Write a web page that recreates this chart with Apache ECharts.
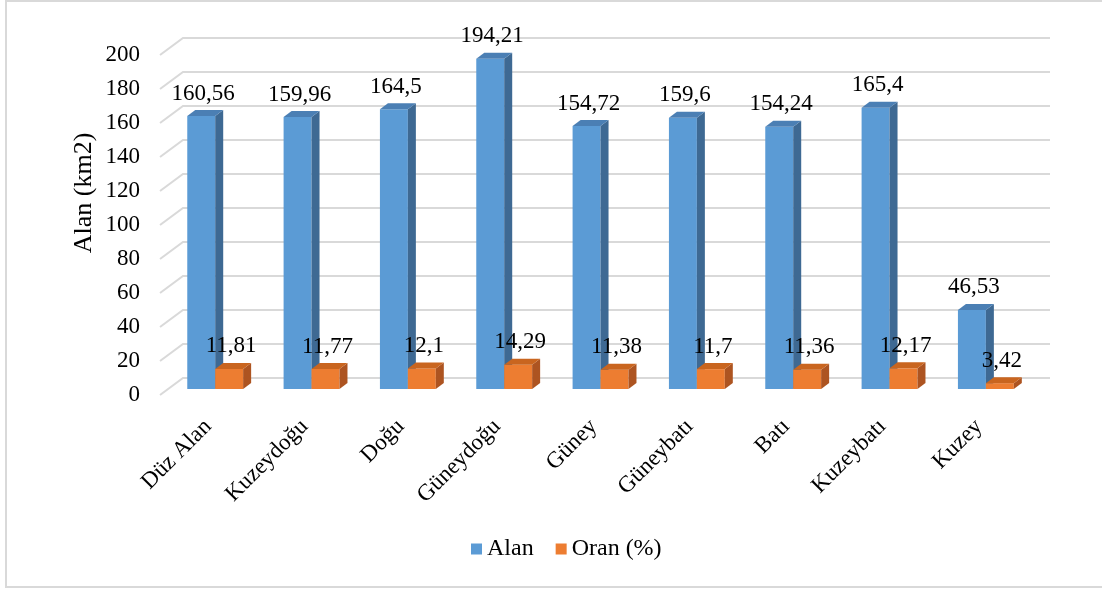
<!DOCTYPE html>
<html>
<head>
<meta charset="utf-8">
<script src="https://cdn.jsdelivr.net/npm/echarts@6/dist/echarts.min.js"></script>
<style>
  html, body { margin: 0; padding: 0; background: #fff; }
  #chart { width: 1102px; height: 590px; }
</style>
</head>
<body>
<div id="chart"></div>
<script>
// Categories and series values
const categories = ['Düz Alan', 'Kuzeydoğu', 'Doğu', 'Güneydoğu', 'Güney', 'Güneybatı', 'Batı', 'Kuzeybatı', 'Kuzey'];
const alan = [160.56, 159.96, 164.5, 194.21, 154.72, 159.6, 154.24, 165.4, 46.53];
const oran = [11.81, 11.77, 12.1, 14.29, 11.38, 11.7, 11.36, 12.17, 3.42];
const yTicks = [0, 20, 40, 60, 80, 100, 120, 140, 160, 180, 200];

const FAMILY = 'Liberation Serif';
const FONT = '"Liberation Serif", "Times New Roman", serif';

// Oblique depth offsets (pixels) for the pseudo-3D look
const WALL_DX = 23, WALL_DY = 17;   // front plane -> back wall
const BAR_DX = 8, BAR_DY = 6;       // front plane -> bar front, and bar depth

function fmt(v) { return String(v).replace('.', ','); }

function barRenderer(slot, colors) {
  return function (params, api) {
    const idx = api.value(0);
    const v = api.value(1);
    const base = api.coord([idx, 0]);
    const top = api.coord([idx, v]);
    const band = api.size([1, 0])[0];
    const w = band * 0.29;
    const x0 = base[0] + (slot === 0 ? -0.30 * band : -0.01 * band) + BAR_DX;
    const x1 = x0 + w;
    const yb = base[1] - BAR_DY;
    const yt = top[1] - BAR_DY;
    return {
      type: 'group',
      children: [
        { type: 'rect', shape: { x: x0, y: yt, width: w, height: yb - yt }, style: { fill: colors.front } },
        { type: 'polygon', shape: { points: [[x1, yt], [x1 + BAR_DX, yt - BAR_DY], [x1 + BAR_DX, yb - BAR_DY], [x1, yb]] }, style: { fill: colors.side } },
        { type: 'polygon', shape: { points: [[x0, yt], [x0 + BAR_DX, yt - BAR_DY], [x1 + BAR_DX, yt - BAR_DY], [x1, yt]] }, style: { fill: colors.top } },
        { type: 'text', style: { x: x0 + w / 2 + 2, y: yt - BAR_DY - 5, text: fmt(v), fill: '#000', font: '23px ' + FONT, align: 'center', verticalAlign: 'bottom' } }
      ]
    };
  };
}

function wallRenderer(params, api) {
  const cs = params.coordSys;
  const y = api.coord([0, api.value(1)])[1];
  return {
    type: 'polyline',
    shape: { points: [[cs.x, y], [cs.x + WALL_DX, y - WALL_DY], [cs.x + cs.width + WALL_DX, y - WALL_DY]] },
    style: { stroke: '#D9D9D9', lineWidth: 2, fill: null },
    silent: true
  };
}

const chart = echarts.init(document.getElementById('chart'), null, { renderer: 'canvas' });

chart.setOption({
  backgroundColor: '#fff',
  animation: false,
  textStyle: { fontFamily: FAMILY },
  grid: { left: 160, right: 75, top: 55, bottom: 195, containLabel: false, outerBoundsMode: 'none' },
  legend: {
    data: ['Alan', 'Oran (%)'],
    bottom: 24,
    left: 466,
    icon: 'rect',
    itemWidth: 11,
    itemHeight: 11,
    itemGap: 22,
    textStyle: { fontFamily: FAMILY, fontSize: 24, color: '#000' }
  },
  xAxis: {
    type: 'category',
    data: categories,
    axisLine: { show: false },
    axisTick: { show: false },
    splitLine: { show: false },
    axisLabel: { interval: 0, rotate: 45, margin: 28, fontFamily: FAMILY, fontSize: 23, color: '#000' }
  },
  yAxis: {
    type: 'value',
    min: 0,
    max: 200,
    interval: 20,
    axisLine: { show: false },
    axisTick: { show: false },
    splitLine: { show: false },
    axisLabel: { margin: 20, fontFamily: FAMILY, fontSize: 23, color: '#000' }
  },
  graphic: [
    { type: 'rect', shape: { x: 6, y: 1, width: 1100, height: 586 }, style: { fill: null, stroke: '#D9D9D9', lineWidth: 2 }, silent: true },
    { type: 'text', x: 84, y: 193, rotation: Math.PI / 2, style: { text: 'Alan (km2)', font: '26px ' + FONT, fill: '#000', align: 'center', verticalAlign: 'middle' } }
  ],
  series: [
    { type: 'custom', name: 'walls', renderItem: wallRenderer, data: yTicks.map(v => [0, v]), encode: { x: 0, y: 1 }, z: 1, silent: true },
    { type: 'custom', name: 'Alan', renderItem: barRenderer(0, { front: '#5B9BD5', side: '#3E6993', top: '#4B7FB4' }), data: alan.map((v, i) => [i, v]), encode: { x: 0, y: 1 }, itemStyle: { color: '#5B9BD5' }, z: 2 },
    { type: 'custom', name: 'Oran (%)', renderItem: barRenderer(1, { front: '#ED7D31', side: '#AD5421', top: '#C9651F' }), data: oran.map((v, i) => [i, v]), encode: { x: 0, y: 1 }, itemStyle: { color: '#ED7D31' }, z: 3 }
  ]
});
</script>
</body>
</html>
